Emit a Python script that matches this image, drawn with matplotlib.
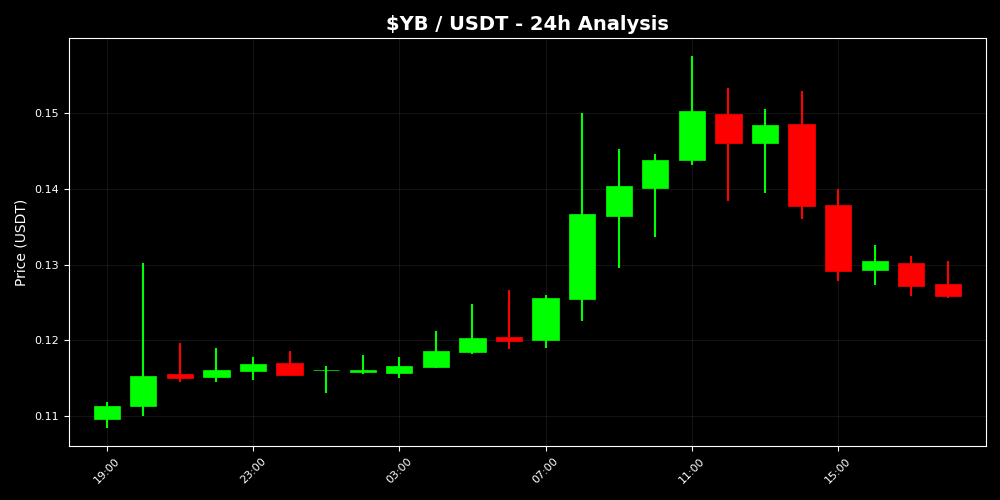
import numpy as np
import matplotlib
matplotlib.use('Agg')
import matplotlib.pyplot as plt

# hourly candles, 19:00 -> 18:00 next day
hours = ['19:00', '20:00', '21:00', '22:00', '23:00', '00:00', '01:00', '02:00',
         '03:00', '04:00', '05:00', '06:00', '07:00', '08:00', '09:00', '10:00',
         '11:00', '12:00', '13:00', '14:00', '15:00', '16:00', '17:00', '18:00']
opens = [0.10956, 0.11136, 0.11554, 0.11519, 0.11598, 0.11704, 0.11607, 0.11585,
         0.11572, 0.11651, 0.11849, 0.12043, 0.12003, 0.12549, 0.13644, 0.14014,
         0.14384, 0.14987, 0.14608, 0.14855, 0.13789, 0.12931, 0.13024, 0.12743]
closes = [0.11132, 0.11528, 0.11506, 0.11607, 0.11686, 0.11545, 0.11610, 0.11607,
          0.11664, 0.11858, 0.12034, 0.11994, 0.12562, 0.13671, 0.14040, 0.14384,
          0.15026, 0.14608, 0.14842, 0.13776, 0.12918, 0.13050, 0.12720, 0.12588]
highs = [0.11185, 0.13016, 0.11960, 0.11894, 0.11775, 0.11858, 0.11660, 0.11805,
         0.11775, 0.12122, 0.12479, 0.12663, 0.12597, 0.15004, 0.14529, 0.14459,
         0.15752, 0.15330, 0.15053, 0.15290, 0.14006, 0.13257, 0.13110, 0.13050]
lows = [0.10846, 0.11004, 0.11453, 0.11453, 0.11475, 0.11545, 0.11308, 0.11550,
        0.11506, 0.11638, 0.11815, 0.11884, 0.11902, 0.12254, 0.12958, 0.13367,
        0.14318, 0.13842, 0.13948, 0.13605, 0.12786, 0.12729, 0.12588, 0.12562]

plt.style.use('dark_background')
fig, ax = plt.subplots(figsize=(10, 5), dpi=100)
fig.patch.set_facecolor('black')
ax.set_facecolor('black')

x = np.arange(len(hours))
width = 0.72
for i in x:
    o, c, h, l = opens[i], closes[i], highs[i], lows[i]
    color = '#00ff00' if c >= o else '#ff0000'
    ax.vlines(i, l, h, color=color, linewidth=1.5, zorder=2)
    body = abs(c - o)
    if body < 0.00005:
        body = 0.00005
    ax.bar(i, body, width=width, bottom=min(o, c), color=color, edgecolor=color,
           linewidth=0.5, zorder=3)

ax.set_xticks(x[::4])
ax.set_xticklabels(hours[::4], rotation=45, fontsize=8)
ax.tick_params(axis='y', labelsize=8)
ax.set_xlim(-1.03, 24.03)
ax.set_ylim(0.10604, 0.15995)

ax.grid(True, color='white', alpha=0.08, linewidth=0.8)
ax.set_axisbelow(True)
for s in ax.spines.values():
    s.set_color('white')

ax.set_title('$YB / USDT - 24h Analysis', fontsize=14, fontweight='bold', color='white')
ax.set_ylabel('Price (USDT)', fontsize=10)

fig.subplots_adjust(left=0.069, right=0.9855, top=0.924, bottom=0.108)
plt.savefig('out.png', facecolor='black')
